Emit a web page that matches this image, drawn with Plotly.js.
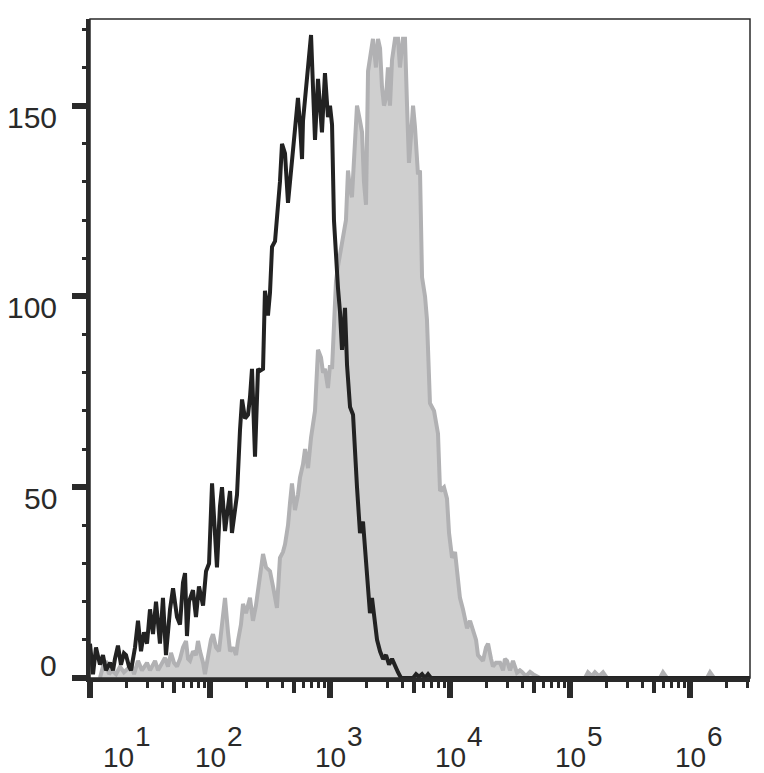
<!DOCTYPE html>
<html><head><meta charset="utf-8">
<script src="https://cdn.plot.ly/plotly-3.0.1.min.js"></script>
<style>html,body{margin:0;padding:0;background:#fff}#chart{width:764px;height:773px}</style>
</head><body><div id="chart"></div>
<script>
// log10 of fluorescence intensity, and event counts per channel
const blackLogX = [1.000,1.025,1.050,1.083,1.108,1.133,1.167,1.192,1.208,1.233,1.258,1.283,1.300,1.325,1.342,1.375,1.400,1.425,1.450,1.475,1.500,1.525,1.550,1.583,1.608,1.633,1.667,1.692,1.725,1.750,1.775,1.792,1.808,1.825,1.858,1.883,1.908,1.942,1.967,1.992,2.017,2.042,2.058,2.083,2.100,2.125,2.150,2.167,2.183,2.208,2.225,2.250,2.267,2.292,2.317,2.333,2.350,2.375,2.400,2.417,2.442,2.458,2.483,2.500,2.517,2.542,2.567,2.583,2.600,2.625,2.650,2.667,2.683,2.708,2.733,2.750,2.767,2.775,2.792,2.808,2.825,2.842,2.858,2.875,2.900,2.917,2.933,2.958,2.983,3.000,3.017,3.033,3.050,3.067,3.083,3.100,3.125,3.142,3.167,3.192,3.225,3.250,3.275,3.308,3.333,3.350,3.375,3.392,3.417,3.442,3.467,3.492,3.517,3.542,3.567,3.592,3.692,3.717,3.742,3.767,3.792,3.817,3.842,6.500];
const blackCount = [9,1,8,3.5,6,2,4,2,5,8.5,3.5,6.5,6,3,2,8,15,7,12,9,18,11.5,20,9,21,6,18,23.5,16,14,25,27.5,11,20,23,16,24,19,28,30,51,35,29,45,50,38.5,46,49,38,45,48,65,73,68,69,73.5,81,58,81,80.5,81,101.5,95,101,113,114.5,123,130,140,137.5,124.5,130,135.5,143,152,145,136,146,152,159,163,168.5,155,141,157,148,143,158.5,147,150,145,120,110,102,96,86,97,82,71,69,50,38,41,28,17,21,13,10,7,5,6,3.5,5,3,1.5,0,0,1,0.3,1,0,1,0,0];

const grayLogX = [1.083,1.108,1.133,1.158,1.183,1.217,1.250,1.283,1.317,1.342,1.367,1.400,1.433,1.475,1.500,1.542,1.567,1.600,1.625,1.650,1.675,1.700,1.725,1.750,1.775,1.800,1.817,1.833,1.858,1.883,1.900,1.917,1.942,1.958,1.983,2.008,2.025,2.050,2.075,2.100,2.125,2.150,2.167,2.192,2.217,2.233,2.258,2.275,2.300,2.333,2.358,2.383,2.417,2.442,2.467,2.500,2.525,2.558,2.583,2.608,2.625,2.650,2.667,2.683,2.708,2.733,2.750,2.775,2.792,2.817,2.842,2.875,2.900,2.925,2.942,2.958,2.983,3.000,3.017,3.033,3.050,3.067,3.083,3.108,3.133,3.150,3.167,3.183,3.208,3.225,3.250,3.267,3.283,3.300,3.317,3.342,3.358,3.383,3.400,3.417,3.433,3.450,3.467,3.483,3.500,3.517,3.542,3.567,3.583,3.608,3.625,3.642,3.658,3.675,3.692,3.708,3.733,3.750,3.767,3.792,3.808,3.833,3.867,3.900,3.917,3.950,3.975,3.992,4.017,4.042,4.058,4.083,4.108,4.142,4.167,4.192,4.217,4.233,4.250,4.275,4.300,4.317,4.342,4.358,4.383,4.417,4.442,4.458,4.475,4.500,4.525,4.558,4.583,4.600,4.633,4.667,4.692,4.717,4.750,5.125,5.150,5.183,5.208,5.242,5.275,5.308,5.750,5.775,5.808,6.142,6.167,6.200,6.500];
const grayCount = [0,3,4.5,1,2,1,3,1.5,2.5,3.6,1,4.5,2,4,2,4.5,2,4,5.3,3,6.6,4,3,5,8,9.7,5,4.5,7,6,9.7,7,4,1,6,10,11.5,8,7,14,21,12,7,8,6,9.7,14,19.4,17,21,15,19,27,32.5,29,28,24,18.4,31.5,33,35,40,46,51,44,48,52.5,56,60,55,63,70,86,84,80,81,76,82,81,92,104,108,111,115,120,133,128,126,140,150,146,143,130,124,159,165,167.5,160,167.5,165,155,150,152,160,150,162,167.5,167.5,160,167.5,167.5,150,135,142,150,144.5,132,133,105,100,94,72,70,64,49,50,47,38,31.5,33,29,21,18,13,15,12,10,6,5.5,4.5,8,9,5,3,4,4,2,5,4.5,2,4.5,1.4,2,1.6,0.5,1.6,1,0.5,0,0,1.5,0.5,1.5,0.5,1.5,0,0,1.5,0,0,1.5,0,0];

const decadeExponents = [1,2,3,4,5,6];
const minorMultipliers = [2,3,4,6,7,8,9];
const midMultipliers = [5];
const yMajorTicks = [0,50,100,150];
const yMinorTicks = [10,20,30,40,60,70,80,90,110,120,130,140,160,170];

const AX = '#2a2a2a';
const FONT = 'Liberation Sans, Arial, sans-serif';
const xRange = [1, 6.5];
const yRange = [0, 172.7];

const toLin = a => a.map(v => Math.pow(10, v));
const majorVals = decadeExponents.map(k => Math.pow(10, k));
const minorVals = [], midVals = [];
decadeExponents.forEach(k => {
  minorMultipliers.forEach(m => minorVals.push(m * Math.pow(10, k)));
  midMultipliers.forEach(m => midVals.push(m * Math.pow(10, k)));
});

const traces = [
  {x: toLin(grayLogX), y: grayCount, type: 'scatter', mode: 'lines',
   line: {color: '#b1b1b3', width: 4}, fill: 'tozeroy', fillcolor: '#cfcfcf',
   hoverinfo: 'skip', showlegend: false},
  {x: toLin(blackLogX), y: blackCount, type: 'scatter', mode: 'lines',
   line: {color: '#222222', width: 4}, hoverinfo: 'skip', showlegend: false},
  {x: [], y: [], xaxis: 'x2', yaxis: 'y', showlegend: false},
  {x: [], y: [], xaxis: 'x3', yaxis: 'y', showlegend: false},
  {x: [], y: [], xaxis: 'x', yaxis: 'y2', showlegend: false}
];

const xBase = {type: 'log', range: xRange, showgrid: false, zeroline: false,
  showline: true, linewidth: 4, linecolor: AX, ticks: 'outside', tickcolor: AX,
  tickmode: 'array', showticklabels: false, fixedrange: true};
const yBase = {range: yRange, showgrid: false, zeroline: false,
  showline: true, linewidth: 4, linecolor: AX, ticks: 'outside', tickcolor: AX,
  tickmode: 'array', showticklabels: false, fixedrange: true};

const annotations = [];
decadeExponents.forEach((k, i) => {
  const extra = i === 0 ? 28 : 0;
  annotations.push({x: k, xref: 'x', y: 0, yref: 'paper', text: '10', showarrow: false,
    xanchor: 'center', yanchor: 'top', xshift: extra, yshift: -62,
    font: {family: FONT, size: 28, color: AX}});
  annotations.push({x: k, xref: 'x', y: 0, yref: 'paper', text: String(k), showarrow: false,
    xanchor: 'left', yanchor: 'top', xshift: 15 + extra, yshift: -41,
    font: {family: FONT, size: 28, color: AX}});
});
yMajorTicks.forEach(v => {
  annotations.push({x: 0, xref: 'paper', y: v, yref: 'y', text: String(v), showarrow: false,
    xanchor: 'right', yanchor: v === 0 ? 'bottom' : 'top', xshift: -31,
    yshift: v === 0 ? -6 : 7, font: {family: FONT, size: 30, color: AX}});
});

const layout = {
  width: 764, height: 773,
  margin: {l: 90, r: 14, t: 19, b: 95},
  paper_bgcolor: '#ffffff', plot_bgcolor: '#ffffff',
  showlegend: false,
  xaxis: Object.assign({}, xBase, {tickvals: majorVals, ticklen: 16, tickwidth: 6}),
  xaxis2: Object.assign({}, xBase, {overlaying: 'x', anchor: 'y', side: 'bottom', tickvals: minorVals, ticklen: 6, tickwidth: 3}),
  xaxis3: Object.assign({}, xBase, {overlaying: 'x', anchor: 'y', side: 'bottom', tickvals: midVals, ticklen: 11, tickwidth: 4}),
  yaxis: Object.assign({}, yBase, {tickvals: yMajorTicks, ticklen: 14, tickwidth: 6}),
  yaxis2: Object.assign({}, yBase, {overlaying: 'y', anchor: 'x', side: 'left', tickvals: yMinorTicks, ticklen: 4.5, tickwidth: 3}),
  shapes: [{type: 'rect', xref: 'paper', yref: 'paper', x0: 0, x1: 1, y0: 0, y1: 1,
    line: {color: AX, width: 1.5}}],
  annotations: annotations
};

Plotly.newPlot('chart', traces, layout, {displayModeBar: false, staticPlot: true});
</script>
</body></html>
